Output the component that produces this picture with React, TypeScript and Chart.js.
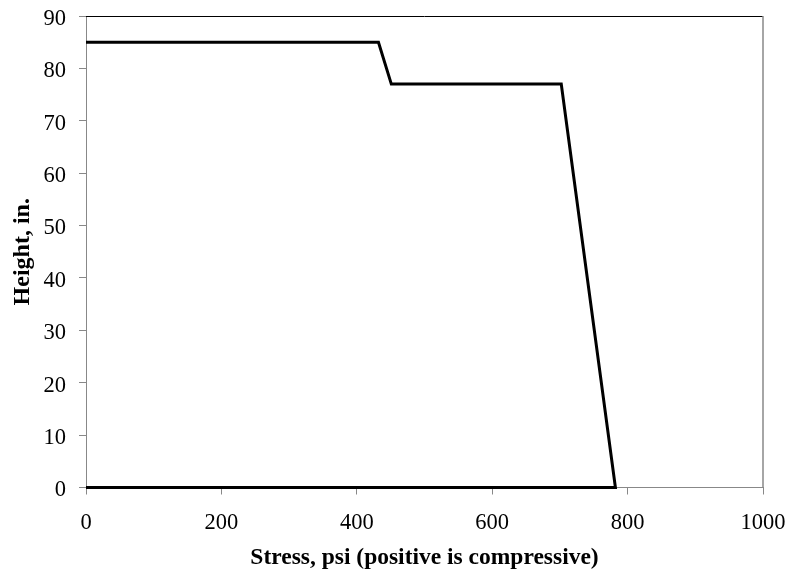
import React, { useEffect, useRef } from "react";
import { Chart, registerables } from "chart.js";

Chart.register(...registerables);

// Data
const stressPsi = [0, 432, 451, 702, 782, 0];
const heightIn = [85, 85, 77, 77, 0, 0];

const xTickValues = [0, 200, 400, 600, 800, 1000];
const yTickValues = [0, 10, 20, 30, 40, 50, 60, 70, 80, 90];

const xTitle = "Stress, psi (positive is compressive)";
const yTitle = "Height, in.";

const FONT = "'Liberation Serif', 'Times New Roman', serif";

const framePlugin = {
  id: "frame",
  beforeDatasetsDraw(chart: any) {
    const { ctx, chartArea } = chart;
    const { left, right, top, bottom } = chartArea;
    ctx.save();
    ctx.strokeStyle = "#000";
    ctx.lineWidth = 1;
    ctx.beginPath();
    ctx.moveTo(left, top + 0.5);
    ctx.lineTo(right, top + 0.5);
    ctx.stroke();
    ctx.strokeStyle = "#888";
    ctx.lineWidth = 1.5;
    ctx.beginPath();
    ctx.moveTo(right, top);
    ctx.lineTo(right, bottom);
    ctx.stroke();
    ctx.restore();
  },
};

export default function App() {
  const canvasRef = useRef<HTMLCanvasElement | null>(null);

  useEffect(() => {
    if (!canvasRef.current) return;
    const points = stressPsi.map((x, i) => ({ x, y: heightIn[i] }));
    const chart = new Chart(canvasRef.current, {
      type: "scatter",
      data: {
        datasets: [
          {
            data: points,
            showLine: true,
            borderColor: "#000",
            borderWidth: 3,
            pointRadius: 0,
            pointHoverRadius: 0,
            fill: false,
            tension: 0,
            clip: 4,
          },
        ],
      },
      options: {
        animation: false,
        responsive: true,
        maintainAspectRatio: false,
        layout: { padding: { top: 16, right: 29, bottom: 0, left: 0 } },
        plugins: {
          legend: { display: false },
          tooltip: { enabled: false },
          title: { display: false },
        },
        scales: {
          x: {
            type: "linear",
            min: 0,
            max: 1000,
            afterBuildTicks: (scale: any) => {
              scale.ticks = xTickValues.map((v) => ({ value: v }));
            },
            afterFit: (scale: any) => {
              scale.height = 85.5;
              scale.paddingLeft = 0;
              scale.paddingRight = 0;
            },
            ticks: {
              color: "#000",
              padding: 15,
              maxRotation: 0,
              autoSkip: false,
              font: { family: FONT, size: 22.5 },
              callback: (v: any) => String(v),
            },
            grid: {
              display: true,
              drawOnChartArea: false,
              drawTicks: true,
              tickLength: 7,
              color: "#888",
            },
            border: { display: true, color: "#888", width: 1 },
            title: {
              display: true,
              text: xTitle,
              color: "#000",
              font: { family: FONT, size: 23.5, weight: "bold" },
              padding: { top: 0, bottom: 1 },
            },
          },
          y: {
            type: "linear",
            min: 0,
            max: 90,
            afterBuildTicks: (scale: any) => {
              scale.ticks = yTickValues.map((v) => ({ value: v }));
            },
            afterFit: (scale: any) => {
              scale.width = 86;
              scale.paddingTop = 0;
              scale.paddingBottom = 0;
            },
            ticks: {
              color: "#000",
              padding: 13,
              autoSkip: false,
              labelOffset: 3,
              font: { family: FONT, size: 22.5 },
              callback: (v: any) => String(v),
            },
            grid: {
              display: true,
              drawOnChartArea: false,
              drawTicks: true,
              tickLength: 7,
              color: "#888",
            },
            border: { display: true, color: "#888", width: 1 },
            title: {
              display: true,
              text: yTitle,
              color: "#000",
              font: { family: FONT, size: 24, weight: "bold" },
              padding: { top: 8, bottom: 0 },
            },
          },
        },
      },
      plugins: [framePlugin],
    } as any);
    return () => chart.destroy();
  }, []);

  return (
    <div
      style={{
        position: "fixed",
        left: 0,
        top: 0,
        width: 792,
        height: 573,
        background: "#fff",
      }}
    >
      <canvas ref={canvasRef} />
    </div>
  );
}
